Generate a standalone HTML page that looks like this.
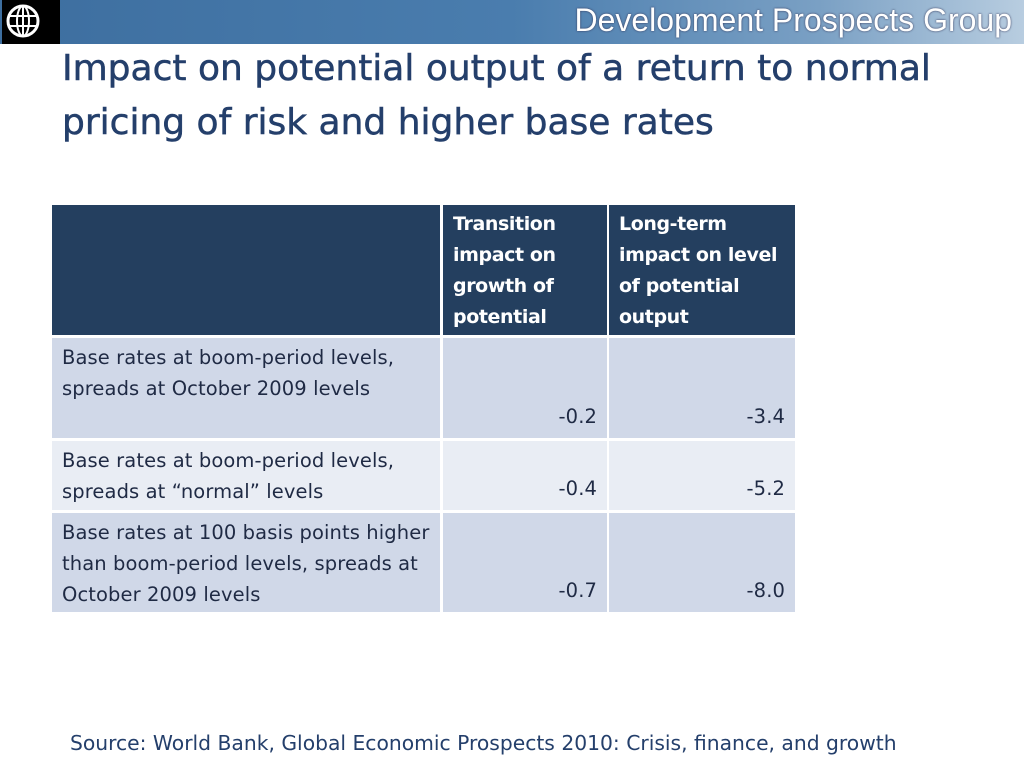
<!DOCTYPE html>
<html><head><meta charset="utf-8"><style>
*{margin:0;padding:0;box-sizing:border-box}
body{width:1024px;height:768px;background:#fff;position:relative;overflow:hidden;font-family:"DejaVu Sans","Liberation Sans",sans-serif}
.abs{position:absolute}
.c{position:absolute;font-size:19.5px;line-height:31px;color:#1f2a44;padding:4px 10px;letter-spacing:0.1px}
.h{background:#243f5f;color:#fff;font-weight:bold;font-size:19px;letter-spacing:-0.4px}
.r1{background:#d0d8e8}.r2{background:#e9edf4}
.n{text-align:right;display:flex;align-items:flex-end;justify-content:flex-end;padding-bottom:6px}
</style></head><body>
<div class="abs" style="left:0;top:0;width:1024px;height:44px;background:linear-gradient(90deg,#3d6e9f 0%,#4a7dae 50%,#7aa0c4 80%,#b8cde0 100%)"></div>
<div class="abs" style="left:2px;top:0;width:58px;height:44px;background:#000">
<svg width="58" height="44"><circle cx="21" cy="21" r="15" fill="none" stroke="#fff" stroke-width="3"/><ellipse cx="21" cy="21" rx="6" ry="15" fill="none" stroke="#fff" stroke-width="2"/><line x1="6" y1="16" x2="36" y2="16" stroke="#fff" stroke-width="2"/><line x1="6" y1="26" x2="36" y2="26" stroke="#fff" stroke-width="2"/><line x1="21" y1="6" x2="21" y2="36" stroke="#fff" stroke-width="2"/></svg></div>
<div class="abs" style="right:12px;top:2px;font-size:32px;color:#fff;font-family:'Liberation Sans',sans-serif;text-shadow:0 0 2px #335">Development Prospects Group</div>
<div class="abs" style="left:62px;top:42px;font-size:36px;line-height:54px;color:#243f6b;width:960px;white-space:nowrap;-webkit-text-stroke:0.5px #243f6b">Impact on potential output of a return to normal<br>pricing of risk and higher base rates</div>
<div>
<div class="c h" style="left:52px;top:205px;width:388px;height:130px"></div>
<div class="c h" style="left:443px;top:205px;width:164px;height:130px">Transition impact on growth of potential</div>
<div class="c h" style="left:609px;top:205px;width:186px;height:130px">Long-term impact on level of potential output</div>
<div class="c r1" style="left:52px;top:338px;width:388px;height:100px">Base rates at boom-period levels, spreads at October 2009 levels</div>
<div class="c r1 n" style="left:443px;top:338px;width:164px;height:100px">-0.2</div>
<div class="c r1 n" style="left:609px;top:338px;width:186px;height:100px">-3.4</div>
<div class="c r2" style="left:52px;top:441px;width:388px;height:69px">Base rates at boom-period levels, spreads at “normal” levels</div>
<div class="c r2 n" style="left:443px;top:441px;width:164px;height:69px">-0.4</div>
<div class="c r2 n" style="left:609px;top:441px;width:186px;height:69px">-5.2</div>
<div class="c r1" style="left:52px;top:513px;width:388px;height:99px">Base rates at 100 basis points higher than boom-period levels, spreads at October 2009 levels</div>
<div class="c r1 n" style="left:443px;top:513px;width:164px;height:99px">-0.7</div>
<div class="c r1 n" style="left:609px;top:513px;width:186px;height:99px">-8.0</div>
</div>
<div class="abs" style="left:70px;top:731px;font-size:20.3px;color:#243f6b;white-space:nowrap">Source: World Bank, Global Economic Prospects 2010: Crisis, finance, and growth</div>
</body></html>
